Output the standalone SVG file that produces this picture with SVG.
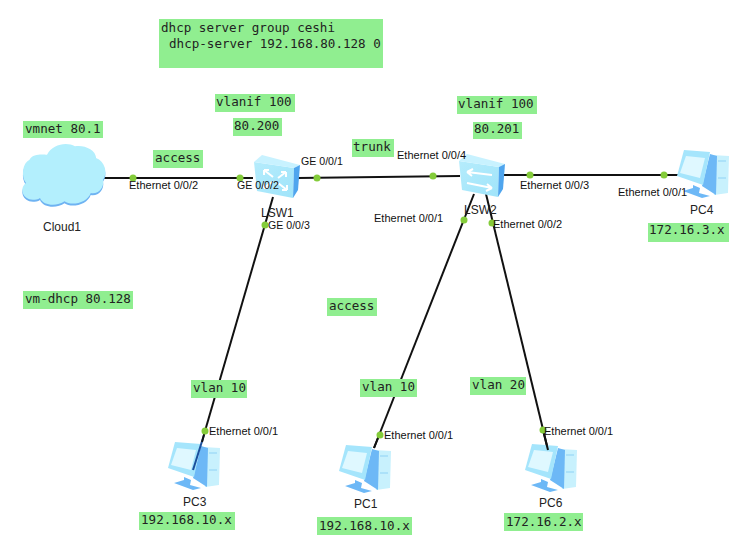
<svg xmlns="http://www.w3.org/2000/svg" width="745" height="555" viewBox="0 0 745 555">
<style>
.bg{fill:#90ee90}
.m{font:12.57px "DejaVu Sans Mono","Liberation Mono",monospace;fill:#222}
.l{font:11px "Liberation Sans",Arial,sans-serif;fill:#111}
.g{font:10.6px "Liberation Sans",Arial,sans-serif;fill:#111}
.n{font:12px "Liberation Sans",Arial,sans-serif;fill:#222}
.c{stroke:#111;stroke-width:2;fill:none}
.d{fill:#84cc3a}
.a{stroke:#fff;stroke-width:2;fill:none}
</style>
<defs>
<linearGradient id="face" x1="0" y1="0" x2="1" y2="1"><stop offset="0" stop-color="#b5ecfc"/><stop offset="1" stop-color="#a0e4fa"/></linearGradient>
<symbol id="pc" viewBox="0 0 53 52" width="53" height="52" overflow="visible">
<path d="M35 6L52 7L51 44L37 46Z" fill="#c8f1fd"/>
<path d="M41 12H49M41 29H49" stroke="#8fd2f5" stroke-width="1"/>
<path d="M33 5L40 7L39 46L25 37Z" fill="#6db8f6"/>
<path d="M16 36L23 39L22 44L33 47L25 49L6 42L16 39Z" fill="#6db8f6"/>
<path d="M7 1L33 3L26 36L0 27Z" fill="#a5e5fc"/>
<path d="M9 7L28 9L23 29L3 24Z" fill="#dff8ff"/>
</symbol>
<symbol id="sw" viewBox="0 0 46 44" width="46" height="44" overflow="visible">
<path d="M0 7L40 13L39 43L3 36Z" fill="url(#face)"/>
<path d="M0 7L8 0L46 10L40 13Z" fill="#c8f2ff"/>
<path d="M40 13L46 10L44 35L39 43Z" fill="#4fa5ee"/>
</symbol>
</defs>
<rect width="745" height="555" fill="#fff"/>
<g id="connectors">
<path class="c" d="M104 178H253"/>
<path class="c" d="M298 178L460 176"/>
<path class="c" d="M500 175H678"/>
<path class="c" d="M273 197L205 431"/>
<path class="c" d="M474 194L374 448"/>
<path class="c" d="M486 194L548 450"/>
</g>
<g id="Cloud1">
<path transform="translate(12 140) scale(.35 .3333)" fill="#6fb3f2" d="M60 185C30 185 20 150 40 135C25 115 30 75 50 65C60 45 90 50 100 50C115 20 155 10 180 25C205 20 240 35 240 60C265 70 275 105 260 125C265 150 245 170 225 165C215 195 170 205 150 190C130 205 90 205 80 180C75 185 65 185 60 185Z"/>
<path transform="translate(12 138) scale(.35 .3333)" fill="#b3effd" d="M60 185C30 185 20 150 40 135C25 115 30 75 50 65C60 45 90 50 100 50C115 20 155 10 180 25C205 20 240 35 240 60C265 70 275 105 260 125C265 150 245 170 225 165C215 195 170 205 150 190C130 205 90 205 80 180C75 185 65 185 60 185Z"/>
<text class="n" x="43" y="231">Cloud1</text>
</g>
<g id="LSW1">
<use href="#sw" x="254" y="155"/>
<path class="a" d="M264 170L273 177M264 170v5M264 170h5M287 190L278 183M287 190v-5M287 190h-5M264 188L272 182M264 188h5M264 188v-5M286 172L278 178M286 172h-5M286 172v5"/>
<text class="n" x="261" y="217">LSW1</text>
</g>
<g id="LSW2">
<use href="#sw" x="459" y="154"/>
<path class="a" d="M467 172L492 175M467 172l6-3M467 172l5 4M467 183L492 188M492 188l-6 3M492 188l-5-4"/>
<text class="n" x="464" y="214">LSW2</text>
</g>
<g id="PC4"><use href="#pc" x="677" y="149"/><text class="n" x="690" y="214">PC4</text></g>
<g id="PC3"><use href="#pc" x="168" y="441"/><text class="n" x="183" y="506">PC3</text></g>
<g id="PC1"><use href="#pc" x="339" y="444"/><text class="n" x="354" y="508">PC1</text></g>
<g id="PC6"><use href="#pc" x="525" y="443"/><text class="n" x="539" y="507">PC6</text></g>
<g id="connector-overlay">
<path d="M204 435L193 470" stroke="#1c4f9c" stroke-width="2" fill="none"/>
<path class="c" d="M205 431L202 442"/>
<path class="c" d="M380 433L374 448"/>
<path class="c" d="M543 430L548 450"/>
<circle class="d" cx="133" cy="178" r="3.5"/><circle class="d" cx="240" cy="178" r="3.5"/>
<circle class="d" cx="317" cy="178" r="3.5"/><circle class="d" cx="433" cy="176" r="3.5"/>
<circle class="d" cx="530" cy="175" r="3.5"/><circle class="d" cx="664" cy="175" r="3.5"/>
<circle class="d" cx="265" cy="225" r="3.5"/><circle class="d" cx="205" cy="431" r="3.5"/>
<circle class="d" cx="464" cy="220" r="3.5"/><circle class="d" cx="380" cy="435" r="3.5"/>
<circle class="d" cx="492" cy="223" r="3.5"/><circle class="d" cx="543" cy="430" r="3.5"/>
</g>
<g id="port-labels">
<text class="l" x="129" y="189">Ethernet 0/0/2</text>
<text class="g" x="237" y="189">GE 0/0/2</text>
<text class="g" x="301" y="165">GE 0/0/1</text>
<text class="g" x="268" y="229">GE 0/0/3</text>
<text class="l" x="397" y="159">Ethernet 0/0/4</text>
<text class="l" x="520" y="189">Ethernet 0/0/3</text>
<text class="l" x="618" y="196">Ethernet 0/0/1</text>
<text class="l" x="374" y="222">Ethernet 0/0/1</text>
<text class="l" x="493" y="228">Ethernet 0/0/2</text>
<text class="l" x="209" y="435">Ethernet 0/0/1</text>
<text class="l" x="384" y="439">Ethernet 0/0/1</text>
<text class="l" x="544" y="435">Ethernet 0/0/1</text>
</g>
<g id="notes">
<rect class="bg" x="159" y="19" width="224" height="49"/>
<text class="m" x="161" y="32">dhcp server group ceshi</text>
<text class="m" x="169" y="48">dhcp-server 192.168.80.128 0</text>
<rect class="bg" x="23" y="121" width="80" height="17"/><text class="m" x="25" y="133">vmnet 80.1</text>
<rect class="bg" x="215" y="94" width="80" height="18"/><text class="m" x="216" y="106">vlanif 100</text>
<rect class="bg" x="233" y="118" width="49" height="18"/><text class="m" x="234" y="130">80.200</text>
<rect class="bg" x="153" y="150" width="50" height="18"/><text class="m" x="155" y="162">access</text>
<rect class="bg" x="457" y="96" width="80" height="18"/><text class="m" x="458" y="108">vlanif 100</text>
<rect class="bg" x="473" y="122" width="49" height="17"/><text class="m" x="474" y="133">80.201</text>
<rect class="bg" x="352" y="139" width="42" height="18"/><text class="m" x="353" y="151">trunk</text>
<rect class="bg" x="648" y="223" width="81" height="19"/><text class="m" x="649" y="234">172.16.3.x</text>
<rect class="bg" x="23" y="291" width="110" height="18"/><text class="m" x="25" y="303">vm-dhcp 80.128</text>
<rect class="bg" x="327" y="298" width="50" height="18"/><text class="m" x="329" y="310">access</text>
<rect class="bg" x="191" y="380" width="56" height="18"/><text class="m" x="193" y="392">vlan 10</text>
<rect class="bg" x="360" y="379" width="57" height="18"/><text class="m" x="362" y="391">vlan 10</text>
<rect class="bg" x="470" y="377" width="56" height="18"/><text class="m" x="472" y="389">vlan 20</text>
<rect class="bg" x="139" y="512" width="96" height="18"/><text class="m" x="141" y="524">192.168.10.x</text>
<rect class="bg" x="317" y="517" width="95" height="18"/><text class="m" x="319" y="530">192.168.10.x</text>
<rect class="bg" x="504" y="513" width="79" height="18"/><text class="m" x="506" y="526">172.16.2.x</text>
</g>
</svg>
